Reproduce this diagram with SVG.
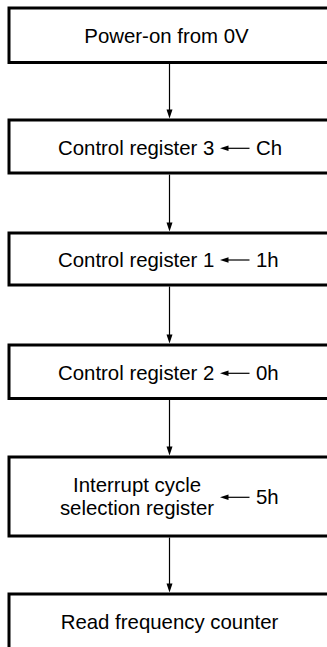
<svg xmlns="http://www.w3.org/2000/svg" width="327" height="647" viewBox="0 0 327 647">
  <defs>
    <style>
      .box { fill: #ffffff; stroke: #000000; stroke-width: 3; }
      .lbl { font-family: "Liberation Sans", Arial, sans-serif; font-size: 20.4px; fill: #000000; }
      .conn { stroke: #000000; stroke-width: 1.2; fill: none; }
      .head { fill: #000000; stroke: none; }
    </style>
  </defs>
  <rect width="327" height="647" fill="#ffffff"/>

  <g id="connectors">
    <line class="conn" x1="169.5" y1="64" x2="169.5" y2="110"/>
    <polygon class="head" points="166.5,109.5 172.5,109.5 169.5,118.5"/>
    <line class="conn" x1="169.5" y1="174.5" x2="169.5" y2="223"/>
    <polygon class="head" points="166.5,222.5 172.5,222.5 169.5,231.5"/>
    <line class="conn" x1="169.5" y1="286.5" x2="169.5" y2="335"/>
    <polygon class="head" points="166.5,334.5 172.5,334.5 169.5,343.5"/>
    <line class="conn" x1="169.5" y1="400" x2="169.5" y2="447"/>
    <polygon class="head" points="166.5,446.5 172.5,446.5 169.5,455.5"/>
    <line class="conn" x1="169.5" y1="537.5" x2="169.5" y2="584"/>
    <polygon class="head" points="166.5,583.5 172.5,583.5 169.5,592.5"/>
  </g>

  <g id="node1">
    <rect class="box" x="9" y="8" width="330" height="54.5"/>
    <text class="lbl" x="166.5" y="42.5" text-anchor="middle">Power-on from 0V</text>
  </g>

  <g id="node2">
    <rect class="box" x="9" y="120" width="330" height="53"/>
    <text class="lbl" x="58" y="155">Control register 3</text>
    <line class="conn" x1="226" y1="148.3" x2="249.5" y2="148.3"/>
    <polygon class="head" points="220,148.3 228.5,145.5 228.5,151.1"/>
    <text class="lbl" x="256" y="155">Ch</text>
  </g>

  <g id="node3">
    <rect class="box" x="9" y="233" width="330" height="52"/>
    <text class="lbl" x="58" y="266.7">Control register 1</text>
    <line class="conn" x1="226" y1="260" x2="249.5" y2="260"/>
    <polygon class="head" points="220,260 228.5,257.2 228.5,262.8"/>
    <text class="lbl" x="256" y="266.7">1h</text>
  </g>

  <g id="node4">
    <rect class="box" x="9" y="345" width="330" height="53.5"/>
    <text class="lbl" x="58" y="380">Control register 2</text>
    <line class="conn" x1="226" y1="373.3" x2="249.5" y2="373.3"/>
    <polygon class="head" points="220,373.3 228.5,370.5 228.5,376.1"/>
    <text class="lbl" x="256" y="380">0h</text>
  </g>

  <g id="node5">
    <rect class="box" x="9" y="457" width="330" height="79"/>
    <text class="lbl" x="137" y="492" text-anchor="middle">Interrupt cycle</text>
    <text class="lbl" x="137" y="515" text-anchor="middle">selection register</text>
    <line class="conn" x1="226" y1="497.3" x2="249.5" y2="497.3"/>
    <polygon class="head" points="220,497.3 228.5,494.5 228.5,500.1"/>
    <text class="lbl" x="256" y="503.5">5h</text>
  </g>

  <g id="node6">
    <rect class="box" x="9" y="594" width="330" height="54.5"/>
    <text class="lbl" x="169.5" y="629" text-anchor="middle">Read frequency counter</text>
  </g>
</svg>
